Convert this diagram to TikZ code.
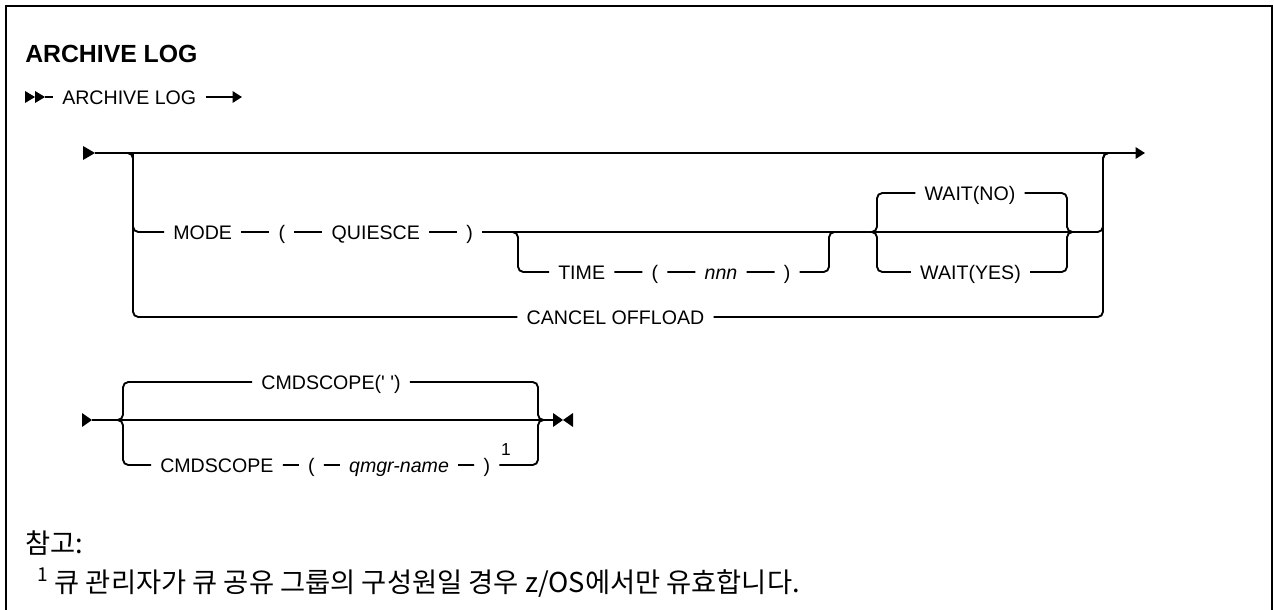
\documentclass[tikz,border=0pt]{standalone}
\usepackage{fontspec}
\setmainfont{Liberation Sans}
\newfontfamily\krfont{Noto Sans CJK KR}
\usetikzlibrary{arrows.meta, positioning, calc}

\begin{document}
\begin{tikzpicture}[x=0.75pt, y=-0.75pt,
        rail/.style={line width=1.4pt, rounded corners=4pt},
        endarr/.style={-{Triangle[length=7pt, width=8.5pt]}},
        kw/.style={font=\fontsize{14.7}{17}\selectfont, inner xsep=6.75pt, inner ysep=0pt,
            text height=10.5pt, text depth=0pt},
        var/.style={kw, font=\fontsize{14.7}{17}\selectfont\itshape},
        ttl/.style={font=\fontsize{18.6}{22}\selectfont\bfseries, inner sep=0pt},
        fnmark/.style={font=\fontsize{13}{15}\selectfont, inner sep=0pt},
        note/.style={font=\krfont\fontsize{20.5}{25}\selectfont, inner sep=0pt}
    ]
        \useasboundingbox (0,0) rectangle (1274,610);
        % frame
        \draw[line width=1.5pt] (6,640) -- (6,6) -- (1272,6) -- (1272,640);
        % title and command
        \node[ttl, anchor=west] (title) at (25,54) {ARCHIVE LOG};
        \coordinate (hd) at (45,97);
        \fill (25,91) -- (35,97) -- (25,103) -- cycle;
        \fill (35,91) -- (45,97) -- (35,103) -- cycle;
        \node[kw, anchor=west] (cmd) at (53,97) {ARCHIVE LOG};
        \coordinate (hdend) at (242,97);
        \draw[rail] (hd) -- (cmd);
        \draw[rail, endarr] (cmd) -- (hdend);
        % main line
        \coordinate (s1) at (95,153);
        \coordinate (e1) at (1145,153);
        \coordinate (l1) at (133,153);
        \coordinate (xr1) at (1103,153);
        \fill (83,146) -- (95,153) -- (83,160) -- cycle;
        \draw[rail, endarr] (s1) -- (e1);
        % MODE row
        \node[kw, anchor=west] (mode) at (164,232) {MODE};
        \node[kw, right=21pt of mode] (lp1) {(};
        \node[kw, right=21pt of lp1] (quiesce) {QUIESCE};
        \node[kw, right=21pt of quiesce] (rp1) {)};
        % TIME row
        \coordinate (tl) at (518,272);
        \coordinate (tr) at (829,232);
        \node[kw, anchor=west] (time) at (549,272) {TIME};
        \node[kw, right=21pt of time] (lp2) {(};
        \node[var, right=21pt of lp2] (nnn) {nnn};
        \node[kw, right=21pt of nnn] (rp2) {)};
        % WAIT
        \coordinate (wl) at (877,232);
        \coordinate (wr) at (1067,232);
        \node[kw] (waitno) at (970,193) {WAIT(NO)};
        \node[kw] (waityes) at (970.5,272) {WAIT(YES)};
        % CANCEL OFFLOAD
        \node[kw] (cancel) at (615.5,317) {CANCEL OFFLOAD};
        % rails
        \draw[rail] (s1) -- (l1) |- (cancel);
        \draw[rail] (l1) |- (mode);
        \draw[rail] (mode) -- (lp1) -- (quiesce) -- (rp1);
        \draw[rail] (rp1) -| (xr1) -- ++(10,0);
        \draw[rail] (cancel) -| (xr1) -- ++(10,0);
        \draw[rail] (rp1) -| (tl) -- (time);
        \draw[rail] (time) -- (lp2) -- (nnn) -- (rp2) -| (tr) -- ++(10,0);
        \draw[rail] ($(wl)+(-10,0)$) -- (wl) |- (waitno);
        \draw[rail] ($(wl)+(-10,0)$) -- (wl) |- (waityes);
        \draw[rail] (waitno) -| (wr) -- ++(10,0);
        \draw[rail] (waityes) -| (wr) -- ++(10,0);
        % CMDSCOPE
        \coordinate (s2) at (92,420);
        \coordinate (e2) at (553,420);
        \coordinate (sl) at (123,420);
        \coordinate (sr) at (538,420);
        \fill (82,413) -- (92,420) -- (82,427) -- cycle;
        \draw[rail] (s2) -- (e2);
        \fill (553,413) -- (563,420) -- (553,427) -- cycle;
        \fill (573,413) -- (563,420) -- (573,427) -- cycle;
        \node[kw] (scope0) at (331,382) {CMDSCOPE(\textquotesingle\ \textquotesingle)};
        \node[kw, anchor=west] (scope) at (151,465) {CMDSCOPE};
        \node[kw, right=12pt of scope] (lp3) {(};
        \node[var, right=12pt of lp3] (qmgr) {qmgr-name};
        \node[kw, right=12pt of qmgr] (rp3) {)};
        \node[fnmark] (fn1) at (506,450) {1};
        \draw[rail] ($(sl)+(-10,0)$) -- (sl) |- (scope0);
        \draw[rail] ($(sl)+(-10,0)$) -- (sl) |- (scope);
        \draw[rail] (scope0) -| (sr) -- ++(10,0);
        \draw[rail] (scope) -- (lp3) -- (qmgr) -- (rp3) -| (sr) -- ++(10,0);
        % notes
        \node[note, anchor=base west] (notes) at (25,553) {참고:};
        \node[note, anchor=base west] (fnote) at (37,592) {\textsuperscript{1} 큐 관리자가 큐 공유 그룹의 구성원일 경우 z/OS에서만 유효합니다.};
    \end{tikzpicture}
\end{document}
